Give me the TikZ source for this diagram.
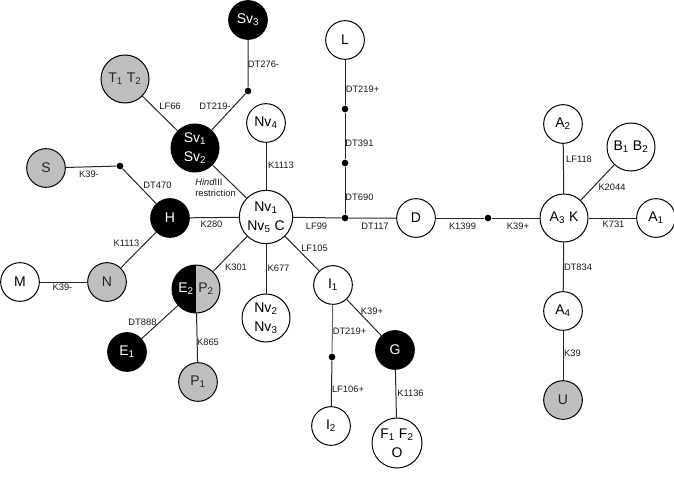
\documentclass[tikz,border=0pt]{standalone}
\usepackage{fontspec}
\setmainfont{Liberation Sans}
\definecolor{nodegray}{RGB}{190,190,190}
\begin{document}
\begin{tikzpicture}[x=0.75pt,y=-0.75pt,
  base/.style={circle, draw=black, line width=0.75pt, inner sep=0pt, align=center,
    font=\fontsize{10.5}{14}\selectfont},
  wn/.style={base, fill=white, minimum size=29pt},
  wnl/.style={base, fill=white, minimum size=36pt},
  bn/.style={base, fill=black, text=white, minimum size=29pt},
  bnl/.style={base, fill=black, text=white, minimum size=36pt},
  gn/.style={base, fill=nodegray, text=black!85, minimum size=29pt},
  gnl/.style={base, fill=nodegray, text=black!85, minimum size=36pt},
  dotn/.style={circle, fill=black, inner sep=0pt, minimum size=5pt},
  lbl/.style={font=\fontsize{7}{8.25}\selectfont, inner sep=0pt, text=black!90},
  edge/.style={draw=black!85, line width=0.75pt}
]
\useasboundingbox (0,0) rectangle (674,485);

% half node E2/P2
\fill[black] (196,265) arc[start angle=90, end angle=270, radius=18pt] -- cycle;
\fill[nodegray] (196,313) arc[start angle=-90, end angle=90, radius=18pt] -- cycle;

% nodes
\node[bn]  (sv3)  at (248,20)  {Sv\textsubscript{3}};
\node[gnl] (t)    at (125,79)  {T\textsubscript{1} T\textsubscript{2}};
\node[bnl] (sv1)  at (195,148) {Sv\textsubscript{1}\\Sv\textsubscript{2}};
\node[wn]  (nv4)  at (266,123) {Nv\textsubscript{4}};
\node[gn]  (s)    at (46,168)  {S};
\node[bn]  (h)    at (170,218) {H};
\node[base, fill=white, minimum size=40pt] (nv1) at (266,217) {Nv\textsubscript{1}\\Nv\textsubscript{5} C};
\node[wn]  (l)    at (345,40)  {L};
\node[wn]  (d)    at (416,218) {D};
\node[wnl] (a3)   at (564,218) {A\textsubscript{3} K};
\node[wn]  (a2)   at (563,124) {A\textsubscript{2}};
\node[wnl] (b)    at (631,147) {B\textsubscript{1} B\textsubscript{2}};
\node[wn]  (a1)   at (656,218) {A\textsubscript{1}};
\node[wn]  (a4)   at (563,311) {A\textsubscript{4}};
\node[gn]  (u)    at (563,400) {U};
\node[wn]  (i1)   at (333,285) {I\textsubscript{1}};
\node[wn]  (i2)   at (331,426) {I\textsubscript{2}};
\node[bn]  (g)    at (395,350) {G};
\node[base, fill=white, minimum size=37.5pt] (f) at (397,443) {F\textsubscript{1} F\textsubscript{2}\\O};
\node[wn]  (m)    at (20,282)  {M};
\node[gn]  (n)    at (107,282) {N};
\node[base, minimum size=36pt] (ep) at (196,289) {};
\node[inner sep=0pt, text=white, font=\fontsize{10.5}{14}\selectfont] (etxt) at (186,289) {E\textsubscript{2}};
\node[inner sep=0pt, text=black!85, font=\fontsize{10.5}{14}\selectfont] (ptxt) at (206,289) {P\textsubscript{2}};
\node[bn]  (e1)   at (127,352) {E\textsubscript{1}};
\node[gn]  (p1)   at (198,382) {P\textsubscript{1}};
\node[wnl] (nv2)  at (266,318) {Nv\textsubscript{2}\\Nv\textsubscript{3}};

% dots
\node[dotn] (d1) at (248,91)  {};
\node[dotn] (d2) at (120,166) {};
\node[dotn] (d3) at (345,109) {};
\node[dotn] (d4) at (345,163) {};
\node[dotn] (d5) at (345,218) {};
\node[dotn] (d6) at (488,218) {};
\node[dotn] (d7) at (332,357) {};

% edges
\draw[edge] (sv3) -- (d1) -- (sv1);
\draw[edge] (t) -- (sv1);
\draw[edge] (sv1) -- (nv1);
\draw[edge] (nv4) -- (nv1);
\draw[edge] (s) -- (d2) -- (h);
\draw[edge] (h) -- (nv1);
\draw[edge] (h) -- (n);
\draw[edge] (m) -- (n);
\draw[edge] (nv1) -- (d5) -- (d);
\draw[edge] (d5) -- (d4) -- (d3) -- (l);
\draw[edge] (d) -- (d6) -- (a3);
\draw[edge] (a3) -- (a2);
\draw[edge] (a3) -- (b);
\draw[edge] (a3) -- (a1);
\draw[edge] (a3) -- (a4);
\draw[edge] (a4) -- (u);
\draw[edge] (nv1) -- (i1);
\draw[edge] (nv1) -- (nv2);
\draw[edge] (nv1) -- (ep);
\draw[edge] (ep) -- (e1);
\draw[edge] (ep) -- (p1);
\draw[edge] (i1) -- (g);
\draw[edge] (g) -- (f);
\draw[edge, draw=black!60] (i1) -- (d7);
\draw[edge] (d7) -- (i2);

% labels
\node[lbl] (l1)  at (263.5,64)  {DT276-};
\node[lbl] (l2)  at (215,106)   {DT219-};
\node[lbl] (l3)  at (170,106)   {LF66};
\node[lbl] (l4)  at (281,165)   {K1113};
\node[lbl] (l5)  at (89,174)    {K39-};
\node[lbl] (l6)  at (157.5,185) {DT470};
\node[lbl, align=left, anchor=west] (l7) at (195,187.5) {\textit{Hind}III\\restriction};
\node[lbl] (l8)  at (211.5,224) {K280};
\node[lbl] (l9)  at (316.5,226) {LF99};
\node[lbl] (l10) at (314.5,248) {LF105};
\node[lbl] (l11) at (126.5,243) {K1113};
\node[lbl] (l12) at (62.5,287)  {K39-};
\node[lbl] (l13) at (236,267)   {K301};
\node[lbl] (l14) at (278.5,268) {K677};
\node[lbl] (l15) at (142.5,322) {DT888};
\node[lbl] (l16) at (208,342)   {K865};
\node[lbl] (l17) at (362.5,89)  {DT219+};
\node[lbl] (l18) at (359.5,143) {DT391};
\node[lbl] (l19) at (359.5,197) {DT690};
\node[lbl] (l20) at (375,226)   {DT117};
\node[lbl] (l21) at (462.5,226) {K1399};
\node[lbl] (l22) at (518,226)   {K39+};
\node[lbl] (l23) at (613.5,224) {K731};
\node[lbl] (l24) at (579,159)   {LF118};
\node[lbl] (l25) at (612,187)   {K2044};
\node[lbl] (l26) at (578,267)   {DT834};
\node[lbl] (l27) at (572.5,353) {K39};
\node[lbl] (l28) at (372,311)   {K39+};
\node[lbl] (l29) at (349.5,331) {DT219+};
\node[lbl] (l30) at (348,389)   {LF106+};
\node[lbl] (l31) at (410.5,393) {K1136};
\end{tikzpicture}
\end{document}
